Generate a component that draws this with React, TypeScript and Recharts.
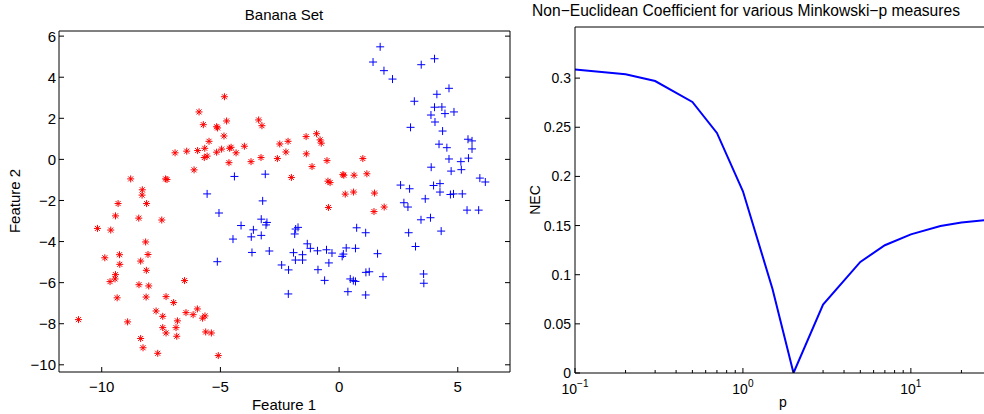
import React from 'react';
import { ScatterChart, Scatter, XAxis, YAxis, LineChart, Line } from 'recharts';

const FONT = '"Liberation Sans", Arial, Helvetica, sans-serif';

// Banana set, class A (red asterisks): [feature1, feature2]
const classA: [number, number][] = [
  [-4.83, 3.05], [-5.9, 2.31], [-4.74, 1.87], [-5.72, 1.69], [-5.16, 1.59], [-5.12, 1.53],
  [-4.85, 1.14], [-5.48, 0.88], [-5.66, 0.54], [-6.91, 0.32], [-6.42, 0.4], [-5.96, 0.43],
  [-4.95, 0.5], [-5.16, 0.35], [-4.55, 0.59], [-4.61, 0.54], [-4.34, 0.32], [-3.99, 0.64],
  [-5.68, 0.09], [-5.56, 0.16], [-4.64, -0.16], [-3.71, -0.11], [-3.29, 0.09], [-3.39, 1.92],
  [-3.25, 1.64], [-6.11, -0.51], [-7.31, -0.95], [-7.25, -0.98], [-8.78, -0.95], [-8.29, -1.48],
  [-8.3, -1.74], [-9.31, -2.15], [-8.11, -2.15], [-2.5, 0.75], [-2.15, 0.88], [-2.24, 0.36],
  [-1.39, 1.11], [-0.95, 1.25], [-0.8, 0.95], [-0.75, 0.79], [-1.38, 0.27], [-2.6, 0.04],
  [-0.51, -0.06], [-1.14, -0.35], [-2.01, -0.88], [1.0, 0.04], [-0.47, -1.06], [-0.38, -1.13],
  [0.16, -0.74], [0.2, -0.77], [0.63, -0.77], [1.17, -0.7], [0.26, -1.69], [0.61, -1.59],
  [1.49, -1.64], [-9.42, -2.75], [-8.44, -2.86], [-7.47, -2.95], [-10.18, -3.36], [-9.62, -3.44],
  [-8.15, -4.02], [-9.87, -4.79], [-9.25, -4.64], [-9.24, -5.11], [-8.36, -4.95], [-8.05, -4.63],
  [-8.12, -5.4], [-9.42, -5.61], [-9.44, -5.82], [-9.65, -5.95], [-8.43, -6.1], [-8.02, -6.16],
  [-6.51, -5.9], [-9.35, -6.74], [-8.13, -6.7], [-7.29, -6.68], [-7.71, -7.38], [-6.97, -6.97],
  [-7.43, -7.64], [-6.45, -7.46], [-6.15, -7.56], [-5.97, -7.28], [-6.81, -7.86], [-5.75, -7.73],
  [-5.65, -7.62], [-10.98, -7.8], [-8.91, -7.91], [-7.43, -8.19], [-7.29, -8.45], [-6.87, -8.19],
  [-6.84, -8.61], [-5.62, -8.4], [-5.38, -8.45], [-8.36, -8.72], [-8.26, -9.17], [-7.64, -9.44],
  [-5.09, -9.55], [-0.45, -2.34], [1.47, -2.54], [1.9, -2.32],
];

// Banana set, class B (blue pluses)
const classB: [number, number][] = [
  [-4.41, -0.83], [-5.56, -1.68], [-3.22, -2.02], [-3.11, -0.72], [1.73, 5.48], [1.43, 4.74],
  [1.89, 4.32], [2.25, 3.91], [3.46, 4.61], [4.02, 4.9], [4.63, 3.46], [4.12, 3.17],
  [3.17, 2.83], [4.02, 2.54], [4.33, 2.55], [3.87, 2.16], [4.46, 2.23], [4.84, 2.31],
  [4.04, 1.82], [3.01, 1.56], [4.36, 1.38], [4.21, 0.74], [4.54, 0.57], [5.43, 0.98],
  [5.6, 0.9], [5.6, 0.51], [4.63, 0.02], [5.13, -0.11], [5.45, 0.06], [5.15, -0.5],
  [4.72, -0.57], [3.88, -0.38], [2.59, -1.25], [2.97, -1.43], [3.98, -1.27], [4.25, -1.18],
  [4.25, -1.59], [4.69, -1.71], [4.82, -1.68], [5.19, -1.68], [3.63, -1.92], [2.73, -2.11],
  [2.9, -2.32], [5.93, -0.91], [6.16, -1.1], [5.39, -2.47], [5.88, -2.47], [3.45, -2.94],
  [3.85, -2.84], [2.93, -3.57], [4.3, -3.49], [3.22, -4.24], [3.56, -5.58], [3.57, -6.03],
  [-5.06, -2.61], [-4.13, -3.22], [-4.47, -3.88], [-3.61, -3.43], [-3.7, -3.77], [-3.28, -3.7],
  [-3.28, -2.91], [-3.04, -3.07], [-3.67, -4.53], [-5.13, -4.98], [-2.94, -4.46], [-1.83, -3.39],
  [-1.73, -3.31], [-1.87, -3.63], [-1.34, -4.11], [-1.21, -4.33], [-1.92, -4.54], [-1.54, -4.64],
  [-1.84, -4.9], [-1.54, -4.9], [-0.91, -4.45], [-0.53, -4.4], [-0.3, -4.56], [-2.42, -5.14],
  [-2.13, -5.38], [-0.89, -5.37], [-0.43, -5.04], [-0.61, -5.89], [-2.14, -6.55], [0.18, -4.61],
  [0.13, -4.72], [0.3, -4.31], [0.69, -4.33], [0.74, -3.33], [1.12, -3.57], [1.62, -4.59],
  [0.47, -5.82], [0.6, -5.9], [0.69, -5.94], [1.13, -5.5], [1.27, -5.47], [1.85, -5.71],
  [0.37, -6.44], [1.12, -6.6], [-3.08, -3.19],
];

const scatterXTicks = [-10, -5, 0, 5];
const scatterYTicks = [-10, -8, -6, -4, -2, 0, 2, 4, 6];

// NEC vs Minkowski p
const pValues = [0.1, 0.2, 0.3, 0.5, 0.7, 1, 1.5, 2, 3, 5, 7, 10, 15, 20, 30];
const necValues = [0.3087, 0.304, 0.297, 0.2758, 0.2442, 0.1849, 0.0855, 0, 0.0696, 0.113, 0.13, 0.141, 0.1496, 0.153, 0.156];
const pTicks = [0.1, 0.2, 0.3, 0.4, 0.5, 0.6, 0.7, 0.8, 0.9, 1, 2, 3, 4, 5, 6, 7, 8, 9, 10, 20, 30];
const pMajor = [0.1, 1, 10];
const pMajorExp = ['\u22121', '0', '1'];
const necTicks = [0, 0.05, 0.1, 0.15, 0.2, 0.25, 0.3];
const necTickLabels = ['0', '0.05', '0.1', '0.15', '0.2', '0.25', '0.3'];

const dataA = classA.map(([x, y]) => ({ x, y }));
const dataB = classB.map(([x, y]) => ({ x, y }));
const lineData = pValues.map((p, i) => ({ p, nec: necValues[i] }));

const fmtNum = (v: number) => (v < 0 ? '\u2212' + String(-v) : String(v));

const LFS = 15;
const RFS = 14;
const TFS = 15.6;

const StarShape = (props: any) => {
  const { cx, cy } = props;
  const r = 3.5;
  const d = 2.5;
  return (
    <g stroke="#ff0000" strokeWidth={1}>
      <line x1={cx - r} x2={cx + r} y1={cy} y2={cy} />
      <line x1={cx} x2={cx} y1={cy - r} y2={cy + r} />
      <line x1={cx - d} x2={cx + d} y1={cy - d} y2={cy + d} />
      <line x1={cx - d} x2={cx + d} y1={cy + d} y2={cy - d} />
    </g>
  );
};

const PlusShape = (props: any) => {
  const { cx, cy } = props;
  const r = 4;
  return (
    <g stroke="#0000ff" strokeWidth={1}>
      <line x1={cx - r} x2={cx + r} y1={cy} y2={cy} />
      <line x1={cx} x2={cx} y1={cy - r} y2={cy + r} />
    </g>
  );
};

const LeftBottomTick = (props: any) => {
  const { x, y, payload } = props;
  return (
    <g>
      <line x1={x} x2={x} y1={y} y2={y - 5} stroke="#000" />
      <text x={x} y={y + 20} textAnchor="middle" fontSize={LFS} fontFamily={FONT} fill="#000">
        {fmtNum(payload.value)}
      </text>
    </g>
  );
};
const LeftTopTick = (props: any) => {
  const { x, y } = props;
  return <line x1={x} x2={x} y1={y} y2={y + 5} stroke="#000" />;
};
const LeftLeftTick = (props: any) => {
  const { x, y, payload } = props;
  return (
    <g>
      <line x1={x} x2={x + 5} y1={y} y2={y} stroke="#000" />
      <text x={x - 3} y={y} dy="0.36em" textAnchor="end" fontSize={LFS} fontFamily={FONT} fill="#000">
        {fmtNum(payload.value)}
      </text>
    </g>
  );
};
const LeftRightTick = (props: any) => {
  const { x, y } = props;
  return <line x1={x} x2={x - 5} y1={y} y2={y} stroke="#000" />;
};

const RightBottomTick = (props: any) => {
  const { x, y, payload } = props;
  const idx = pMajor.indexOf(payload.value);
  const major = idx >= 0;
  return (
    <g>
      <line x1={x} x2={x} y1={y} y2={y - (major ? 5 : 3)} stroke="#000" />
      {major && (
        <text x={x} y={y + 21} textAnchor="middle" fontSize={RFS} fontFamily={FONT} fill="#000">
          <tspan>10</tspan>
          <tspan dy={-7} fontSize={RFS * 0.72}>{pMajorExp[idx]}</tspan>
        </text>
      )}
    </g>
  );
};
const RightTopTick = (props: any) => {
  const { x, y, payload } = props;
  const major = pMajor.indexOf(payload.value) >= 0;
  return <line x1={x} x2={x} y1={y} y2={y + (major ? 5 : 3)} stroke="#000" />;
};
const RightLeftTick = (props: any) => {
  const { x, y, payload } = props;
  const idx = necTicks.indexOf(payload.value);
  return (
    <g>
      <line x1={x} x2={x + 5} y1={y} y2={y} stroke="#000" />
      <text x={x - 4} y={y} dy="0.36em" textAnchor="end" fontSize={RFS} fontFamily={FONT} fill="#000">
        {idx >= 0 ? necTickLabels[idx] : ''}
      </text>
    </g>
  );
};
const RightRightTick = (props: any) => {
  const { x, y } = props;
  return <line x1={x} x2={x - 5} y1={y} y2={y} stroke="#000" />;
};

const axisLine = { stroke: '#000', strokeWidth: 1 };

export default function App() {
  return (
    <div
      style={{
        position: 'absolute',
        left: 0,
        top: 0,
        width: 984,
        height: 414,
        overflow: 'hidden',
        background: '#fff',
        fontFamily: FONT,
      }}
    >
      <div style={{ position: 'absolute', left: 0, top: 0 }}>
        <ScatterChart width={520} height={414} margin={{ top: 30, right: 9, bottom: 41, left: 0 }}>
          <XAxis
            xAxisId="b"
            type="number"
            dataKey="x"
            domain={[-11.8, 7.2]}
            allowDataOverflow
            ticks={scatterXTicks}
            orientation="bottom"
            height={1}
            tickSize={0}
            tickMargin={0}
            axisLine={axisLine}
            tickLine={false}
            tick={<LeftBottomTick />}
            interval={0}
          />
          <XAxis
            xAxisId="t"
            type="number"
            domain={[-11.8, 7.2]}
            allowDataOverflow
            ticks={scatterXTicks}
            orientation="top"
            height={1}
            tickSize={0}
            tickMargin={0}
            axisLine={axisLine}
            tickLine={false}
            tick={<LeftTopTick />}
            interval={0}
          />
          <YAxis
            yAxisId="l"
            type="number"
            dataKey="y"
            domain={[-10.35, 6.25]}
            allowDataOverflow
            ticks={scatterYTicks}
            orientation="left"
            width={59}
            tickSize={0}
            tickMargin={0}
            axisLine={axisLine}
            tickLine={false}
            tick={<LeftLeftTick />}
            interval={0}
          />
          <YAxis
            yAxisId="r"
            type="number"
            domain={[-10.35, 6.25]}
            allowDataOverflow
            ticks={scatterYTicks}
            orientation="right"
            width={1}
            tickSize={0}
            tickMargin={0}
            axisLine={axisLine}
            tickLine={false}
            tick={<LeftRightTick />}
            interval={0}
          />
          <Scatter xAxisId="b" yAxisId="l" data={dataB} shape={<PlusShape />} isAnimationActive={false} />
          <Scatter xAxisId="b" yAxisId="l" data={dataA} shape={<StarShape />} isAnimationActive={false} />
        </ScatterChart>
      </div>
      <div style={{ position: 'absolute', left: 520, top: 0 }}>
        <LineChart width={480} height={414} data={lineData} margin={{ top: 26, right: 8, bottom: 40, left: 0 }}>
          <XAxis
            xAxisId="b"
            type="number"
            dataKey="p"
            scale="log"
            domain={[0.1, 30]}
            allowDataOverflow
            ticks={pTicks}
            orientation="bottom"
            height={1}
            tickSize={0}
            tickMargin={0}
            axisLine={axisLine}
            tickLine={false}
            tick={<RightBottomTick />}
            interval={0}
          />
          <XAxis
            xAxisId="t"
            type="number"
            scale="log"
            domain={[0.1, 30]}
            allowDataOverflow
            ticks={pTicks}
            orientation="top"
            height={1}
            tickSize={0}
            tickMargin={0}
            axisLine={axisLine}
            tickLine={false}
            tick={<RightTopTick />}
            interval={0}
          />
          <YAxis
            yAxisId="l"
            type="number"
            domain={[0, 0.352]}
            allowDataOverflow
            ticks={necTicks}
            orientation="left"
            width={55}
            tickSize={0}
            tickMargin={0}
            axisLine={axisLine}
            tickLine={false}
            tick={<RightLeftTick />}
            interval={0}
          />
          <YAxis
            yAxisId="r"
            type="number"
            domain={[0, 0.352]}
            allowDataOverflow
            ticks={necTicks}
            orientation="right"
            width={1}
            tickSize={0}
            tickMargin={0}
            axisLine={axisLine}
            tickLine={false}
            tick={<RightRightTick />}
            interval={0}
          />
          <Line
            xAxisId="b"
            yAxisId="l"
            type="linear"
            dataKey="nec"
            stroke="#0000ff"
            strokeWidth={2}
            dot={false}
            activeDot={false}
            isAnimationActive={false}
          />
        </LineChart>
      </div>
      <svg
        width={984}
        height={414}
        style={{ position: 'absolute', left: 0, top: 0, pointerEvents: 'none' }}
        fontFamily={FONT}
      >
        <text x={284} y={20} textAnchor="middle" fontSize={LFS}>Banana Set</text>
        <text x={284} y={410} textAnchor="middle" fontSize={LFS}>Feature 1</text>
        <text x={0} y={0} transform="translate(20,201) rotate(-90)" textAnchor="middle" fontSize={LFS}>
          Feature 2
        </text>
        <text x={746} y={16} textAnchor="middle" fontSize={TFS}>
          Non{'\u2212'}Euclidean Coefficient for various Minkowski{'\u2212'}p measures
        </text>
        <text x={783} y={407} textAnchor="middle" fontSize={RFS}>p</text>
        <text x={0} y={0} transform="translate(540,200) rotate(-90)" textAnchor="middle" fontSize={RFS}>
          NEC
        </text>
      </svg>
    </div>
  );
}
